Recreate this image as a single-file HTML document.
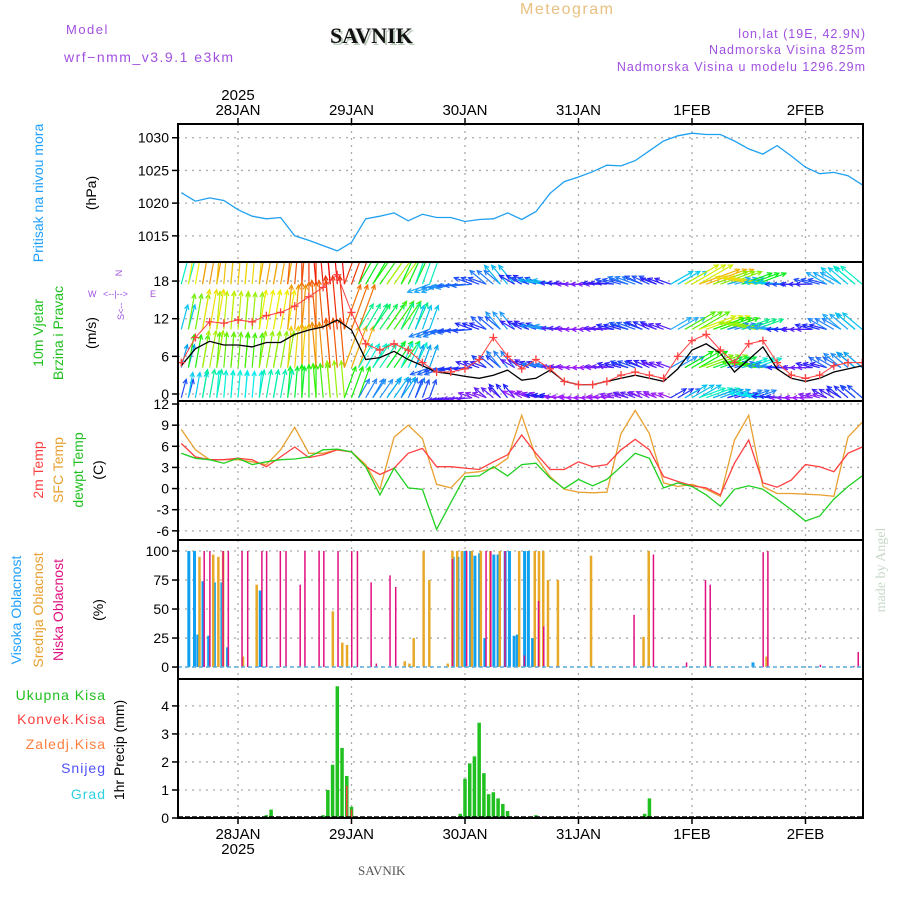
<!DOCTYPE html>
<html><head><meta charset="utf-8"><style>
body{margin:0;background:#fff}
svg{display:block;font-family:"Liberation Sans",sans-serif}
.serif{font-family:"Liberation Serif",serif}
</style></head><body>
<svg id="chart" width="900" height="900" viewBox="0 0 900 900" xmlns="http://www.w3.org/2000/svg">
<defs>
<clipPath id="cp1"><rect x="178" y="124" width="685" height="138"/></clipPath>
<clipPath id="cp2"><rect x="178" y="262" width="685" height="139"/></clipPath>
<clipPath id="cp3"><rect x="178" y="401" width="685" height="139"/></clipPath>
<clipPath id="cp4"><rect x="178" y="540" width="685" height="139"/></clipPath>
<clipPath id="cp5"><rect x="178" y="679" width="685" height="139"/></clipPath>
</defs>
<g>
<text x="66" y="34" font-size="13" fill="#a050e0" letter-spacing="1.5">Model</text>
<text x="64" y="62" font-size="14" fill="#a050e0" letter-spacing="1.5">wrf−nmm_v3.9.1 e3km</text>
<text class="serif" x="332" y="45" font-size="22" font-weight="bold" fill="#b8c8b8">SAVNIK</text>
<text class="serif" x="330" y="43" font-size="22" font-weight="bold" fill="#111">SAVNIK</text>
<text x="520" y="14" font-size="16" fill="#e8c080" letter-spacing="1.5">Meteogram</text>
<text x="866" y="38" font-size="12.5" fill="#a050e0" text-anchor="end" letter-spacing="1">lon,lat (19E, 42.9N)</text>
<text x="866" y="54" font-size="12.5" fill="#a050e0" text-anchor="end" letter-spacing="1">Nadmorska Visina 825m</text>
<text x="866" y="71" font-size="12.5" fill="#a050e0" text-anchor="end" letter-spacing="1">Nadmorska Visina u modelu 1296.29m</text>
<text class="serif" x="358" y="875" font-size="13" fill="#555">SAVNIK</text>
<text class="serif" transform="translate(885,570) rotate(-90)" font-size="14" fill="#c8d8c8" text-anchor="middle">made by Angel</text>
</g>
<g font-size="14">
<text transform="translate(43,193) rotate(-90)" fill="#20a0ff" text-anchor="middle">Pritisak na nivou mora</text>
<text transform="translate(96,193) rotate(-90)" fill="#000" text-anchor="middle">(hPa)</text>
<text transform="translate(43,333) rotate(-90)" fill="#20c020" text-anchor="middle">10m Vjetar</text>
<text transform="translate(63,333) rotate(-90)" fill="#20c020" text-anchor="middle">Brzina i Pravac</text>
<text transform="translate(96,333) rotate(-90)" fill="#000" text-anchor="middle">(m/s)</text>
<g fill="#a050e0" font-size="9">
<text x="119" y="270" transform="rotate(-90 122 270)" text-anchor="middle">N</text>
<text x="88" y="297">W</text><text x="150" y="297">E</text>
<text x="103" y="297">&lt;--|--&gt;</text>
<text x="124" y="320" transform="rotate(-90 124 320)">S&lt;--</text>
</g>
<text transform="translate(43,470) rotate(-90)" fill="#ff4040" text-anchor="middle">2m Temp</text>
<text transform="translate(63,470) rotate(-90)" fill="#e8a030" text-anchor="middle">SFC Temp</text>
<text transform="translate(83,470) rotate(-90)" fill="#20c020" text-anchor="middle">dewpt Temp</text>
<text transform="translate(103,470) rotate(-90)" fill="#000" text-anchor="middle">(C)</text>
<text transform="translate(21,610) rotate(-90)" fill="#20a0ff" text-anchor="middle">Visoka Oblacnost</text>
<text transform="translate(43,610) rotate(-90)" fill="#e8a030" text-anchor="middle">Srednja Oblacnost</text>
<text transform="translate(63,610) rotate(-90)" fill="#e01080" text-anchor="middle">Niska Oblacnost</text>
<text transform="translate(103,610) rotate(-90)" fill="#000" text-anchor="middle">(%)</text>
<text x="106" y="700" fill="#20c020" text-anchor="end" letter-spacing="1">Ukupna Kisa</text>
<text x="106" y="724" fill="#ff4040" text-anchor="end" letter-spacing="1">Konvek.Kisa</text>
<text x="106" y="749" fill="#ff8040" text-anchor="end" letter-spacing="1">Zaledj.Kisa</text>
<text x="106" y="773" fill="#5050ff" text-anchor="end" letter-spacing="1">Snijeg</text>
<text x="106" y="799" fill="#30d0e0" text-anchor="end" letter-spacing="1">Grad</text>
<text transform="translate(124,750) rotate(-90)" fill="#000" text-anchor="middle">1hr Precip (mm)</text>
</g>
<g id="plots"></g>
</svg>
<script>
const dateLabels = ["28JAN","29JAN","30JAN","31JAN","1FEB","2FEB"];
const dateHours = [12,36,60,84,108,132];
const pressure = [1021.6,1020.3,1020.8,1020.4,1019,1018,1017.6,1017.8,1015,1014.3,1013.5,1012.7,1014,1017.6,1018,1018.5,1017.3,1018.3,1017.8,1017.8,1017.2,1017.5,1017.6,1018.5,1017.5,1018.7,1021.5,1023.3,1024,1024.8,1025.8,1025.7,1026.5,1028,1029.5,1030.3,1030.7,1030.5,1030.5,1029.5,1028.3,1027.5,1028.8,1027.2,1025.5,1024.5,1024.7,1024.2,1022.8];
const windSpeed = [4.5,7.2,8.4,7.8,7.8,7.5,8.2,8.2,9.5,10.2,10.7,11.8,10.2,5.5,5.8,6.8,5.5,4.5,3.5,3.2,2.8,2.5,3.0,3.8,2.2,2.5,3.8,2.0,1.5,1.5,2.0,2.5,3.0,2.5,2.0,4.0,7.0,8.0,6.5,3.5,5.5,7.5,4.0,2.5,2.0,2.5,3.5,4.0,4.5];
const windGust = [5,9,11.5,11.3,11.8,11.5,12.5,13,14,15.5,17,19,13,8,7,8,7,5,3.5,3.5,4,5.5,9,6,4,5.5,4,2,1.5,1.5,2,3,3.5,3,2.5,6,8.5,9.5,7,5,8,8.5,5,3,2.5,3,4.5,5,5];
const windDir = [15,10,10,5,5,5,10,10,5,0,-5,-5,20,30,35,35,25,20,250,260,265,290,310,320,300,290,280,275,270,270,275,285,290,295,290,60,60,70,70,75,70,280,275,270,270,285,300,310,310];
const temp2m = [6.4,4.5,4.1,4.1,4.3,4.1,3.1,4.5,5.9,4.4,4.8,5.5,5.2,3.1,2.0,2.9,5.0,5.7,3.1,3.1,2.9,2.7,3.8,4.8,7.6,5.0,2.7,2.7,3.8,3.1,3.4,5.5,7.0,5.5,1.7,1.0,0.4,0.1,-0.9,3.6,6.9,0.8,0.2,1.2,3.4,3.1,2.4,5.0,5.9];
const tempSfc = [8.4,5.5,4.1,4.1,4.1,3.8,3.4,5.5,8.7,5.0,5.0,5.5,5.2,3.4,-0.1,7.3,9.0,7.1,0.6,0.1,2.2,2.4,2.9,4.3,10.4,4.5,1.7,-0.1,-0.5,-0.6,-0.5,7.8,11.1,7.8,0.8,0.3,0.6,-0.1,-1.1,6.9,10.4,0.3,-0.7,-0.7,-0.8,-0.9,-1.1,7.3,9.4];
const tempDew = [5.0,4.3,4.1,3.6,4.3,3.4,3.8,4.1,4.2,4.5,5.5,5.6,5.2,3.1,-0.9,2.9,0.1,-0.1,-5.8,-2.0,1.7,1.8,3.1,1.8,3.4,3.6,1.5,0.0,1.3,0.4,1.3,3.1,5.0,4.3,0.1,0.8,0.3,-0.9,-2.5,-0.1,0.4,-0.1,-1.5,-3.0,-4.6,-3.9,-1.5,0.3,1.8];
const cloudHighHours = [1.6,2.8,3.5,4.6,5.8,7.0,8.6,9.8,16.7,57.5,58.5,60,61.2,62.1,63.1,64.2,66.1,67,68.5,69.4,70.4,71.1,72.6,73.4,74.3,120.9];
const cloudHighVals = [100,100,28,74,27,73,73,17,66,95,95,100,100,96,98,25,97,97,100,100,27,28,100,100,25,4];
const cloudMidHours = [3.8,6.7,7.8,8.8,13,15.9,32,34,35,47.2,48.2,49.1,51.2,52.4,56.3,57.3,58.3,59.3,61.4,63.3,65.3,67.3,71.4,74.7,75.6,76.5,77.5,79.6,86.6,97.7,98.8,123.7];
const cloudMidVals = [95,97,95,100,9,71,48,21,19,5,3,25,100,75,3,100,100,100,100,100,100,100,100,100,100,100,75,75,96,26,100,9];
const cloudLowHours = [4.8,6,8.8,9.9,12.8,14,17,18,20.9,22.1,25.1,26.1,29.1,30.1,33.1,36,37.2,40.1,41.2,44.1,45.3,57.3,60.3,64.4,65.4,68.4,72.5,75.5,76.6,79.4,95.7,99.8,106.8,110.8,111.8,123,124,135.1,142.2,143.1];
const cloudLowVals = [100,100,100,100,100,100,100,100,100,100,71,100,100,100,100,100,100,73,3,79,69,93,100,100,100,100,10,57,35,1,45,97,4,75,71,99,100,2,1,13];
const precipHours = [18,19,28,30,31,32,33,34,35,36,59,60,61,62,63,64,65,66,67,68,69,75,98,99];
const precipTotal = [0.1,0.3,0.05,0.1,1.0,1.9,4.7,2.5,1.5,0.4,0.15,1.4,1.95,2.2,3.4,1.6,0.85,0.92,0.7,0.5,0.25,0.1,0.15,0.7];
const convHours = [35,36];
const convVals = [1.15,0.3];
const windRowFactor = [1.25,1.1,1.0,0.7];
const windRowBase = [17.5,10.3,4.2,-0.6];

const NS="http://www.w3.org/2000/svg";
const root=document.getElementById('plots');
function el(tag,attrs,parent){const e=document.createElementNS(NS,tag);for(const k in attrs)e.setAttribute(k,attrs[k]);(parent||root).appendChild(e);return e;}
const X0=178,X1=863;
const xT=t=>181.25+4.729*t;
const panels=[
 {top:124,bot:262,min:1011,max:1032.1,ticks:[1015,1020,1025,1030],clip:'cp1',name:'pressure'},
 {top:262,bot:401,min:-1.12,max:21.04,ticks:[0,6,12,18],clip:'cp2',name:'wind'},
 {top:401,bot:540,min:-7.3,max:12.43,ticks:[-6,-3,0,3,6,9,12],clip:'cp3',name:'temp'},
 {top:540,bot:679,min:-10.3,max:109.5,ticks:[0,25,50,75,100],clip:'cp4',name:'cloud'},
 {top:679,bot:818,min:0,max:4.96,ticks:[0,1,2,3,4],clip:'cp5',name:'precip'}];
panels.forEach(p=>{p.y=v=>p.bot-(v-p.min)/(p.max-p.min)*(p.bot-p.top);});
const [pP,pW,pT,pC,pR]=panels;

panels.forEach(p=>{
 const g=el('g',{});
 
 
 dateHours.forEach(h=>{const l=el('line',{x1:xT(h),x2:xT(h),y1:p.top,y2:p.bot,stroke:'#aaa','stroke-width':1.3,'stroke-dasharray':'2,5'},g);});
 p.ticks.forEach(v=>{const y=p.y(v);
  const l=el('line',{x1:X0,x2:X1,y1:y,y2:y,stroke:'#aaa','stroke-width':1.3,'stroke-dasharray':'2,5'},g);
  
  el('line',{x1:X0-6,x2:X0,y1:y,y2:y,stroke:'#000','stroke-width':1.5},g);
  const t=el('text',{x:X0-9,y:y+5,'font-size':14,'text-anchor':'end',fill:'#000'},g);t.textContent=v;
  
 });
});
function poly(arr,p,color,name,w){
 const pts=arr.map((v,i)=>xT(i*3).toFixed(1)+','+p.y(v).toFixed(1)).join(' ');
 const l=el('polyline',{points:pts,fill:'none',stroke:color,'stroke-width':w||1.3,'clip-path':'url(#'+p.clip+')'});
 return l;
}
poly(pressure,pP,'#20a0f0','pressure-line');
function hue(s){const st=[[1.5,275],[3,230],[5,190],[7,120],[9,60],[11,30],[14,0]];
 if(s<=st[0][0])return st[0][1];for(let i=1;i<st.length;i++){if(s<=st[i][0]){const a=st[i-1],b=st[i];return a[1]+(b[1]-a[1])*(s-a[0])/(b[0]-a[0]);}}return 0;}
const wg=el('g',{'clip-path':'url(#cp2)'});

windSpeed.forEach((s,i)=>{
 windRowBase.forEach((b,r)=>{
  const sp=s*windRowFactor[r];const len=8+3.5*sp;const a=windDir[i]*Math.PI/180;
  const c='hsl('+hue(sp)+',95%,'+(hue(sp)>200?55:48)+'%)';
  [-1.5,0,1.5].forEach(dt=>{
   if(i===0&&dt<0)return; if(i===windSpeed.length-1&&dt>0)return;
   const x1=xT(i*3+dt),y1=pW.y(b);const x2=x1+len*Math.sin(a),y2=y1-len*Math.cos(a);
   const ag=el('g',{stroke:c,'stroke-width':1.2,fill:'none'},wg);
   
   el('line',{x1,y1,x2,y2},ag);
   const h=5,ang=0.45;
   el('polyline',{points:(x2-h*Math.sin(a-ang))+','+(y2+h*Math.cos(a-ang))+' '+x2+','+y2+' '+(x2-h*Math.sin(a+ang))+','+(y2+h*Math.cos(a+ang))},ag);
  });
 });
});
poly(windSpeed,pW,'#000','wind-speed-line',1.3);
poly(windGust,pW,'#ff4040','wind-gust-line',1);
const gg=el('g',{stroke:'#ff4040','stroke-width':1.3,'clip-path':'url(#cp2)'});

windGust.forEach((v,i)=>{const x=xT(i*3),y=pW.y(v);el('path',{d:`M${x-4},${y}h8M${x},${y-4}v8`},gg);});
poly(tempSfc,pT,'#e8a030','sfc-temp-line');
poly(temp2m,pT,'#ff4040','2m-temp-line');
poly(tempDew,pT,'#20d020','dewpt-temp-line');
function bars(hours,vals,p,color,w,off,name){
 const g=el('g',{fill:color,'clip-path':'url(#'+p.clip+')'});
 
 hours.forEach((h,i)=>{const y=p.y(vals[i]),y0=p.y(0);const r=el('rect',{x:xT(h)+off,y:y,width:w,height:Math.max(0,y0-y)},g);
  });
}
bars(cloudHighHours,cloudHighVals,pC,'#10a0f0',3,-1.5,'cloud-high');
bars(cloudMidHours,cloudMidVals,pC,'#e8a828',2.5,-1,'cloud-mid');
bars(cloudLowHours,cloudLowVals,pC,'#e01080',1.5,-0.5,'cloud-low');
el('line',{x1:X0,x2:X1,y1:pC.y(0),y2:pC.y(0),stroke:'#60b0e0','stroke-width':1.5,'stroke-dasharray':'4,3'});
bars(precipHours,precipTotal,pR,'#20c020',3.5,-1.75,'precip-total');
bars(convHours,convVals,pR,'#ff4040',1.5,-0.75,'precip-convective');
el('line',{x1:X0,x2:X1,y1:817,y2:817,stroke:'#000','stroke-width':1.5,'stroke-dasharray':'5,2'});
panels.forEach(p=>{const r=el('rect',{x:X0,y:p.top,width:X1-X0,height:p.bot-p.top,fill:'none',stroke:'#000','stroke-width':2});
 });
dateLabels.forEach((d,i)=>{const x=xT(dateHours[i]);
 const t1=el('text',{x:x,y:115,'font-size':15,'text-anchor':'middle',fill:'#000'});t1.textContent=d;
 
 const t2=el('text',{x:x,y:839,'font-size':15,'text-anchor':'middle',fill:'#000'});t2.textContent=d;
 
 el('line',{x1:x,x2:x,y1:118,y2:124,stroke:'#000','stroke-width':1.5});
 el('line',{x1:x,x2:x,y1:818,y2:824,stroke:'#000','stroke-width':1.5});
});
const y1=el('text',{x:xT(12),y:100,'font-size':15,'text-anchor':'middle',fill:'#000'});y1.textContent='2025';

const y2=el('text',{x:xT(12),y:854,'font-size':15,'text-anchor':'middle',fill:'#000'});y2.textContent='2025';

</script>
</body></html>
